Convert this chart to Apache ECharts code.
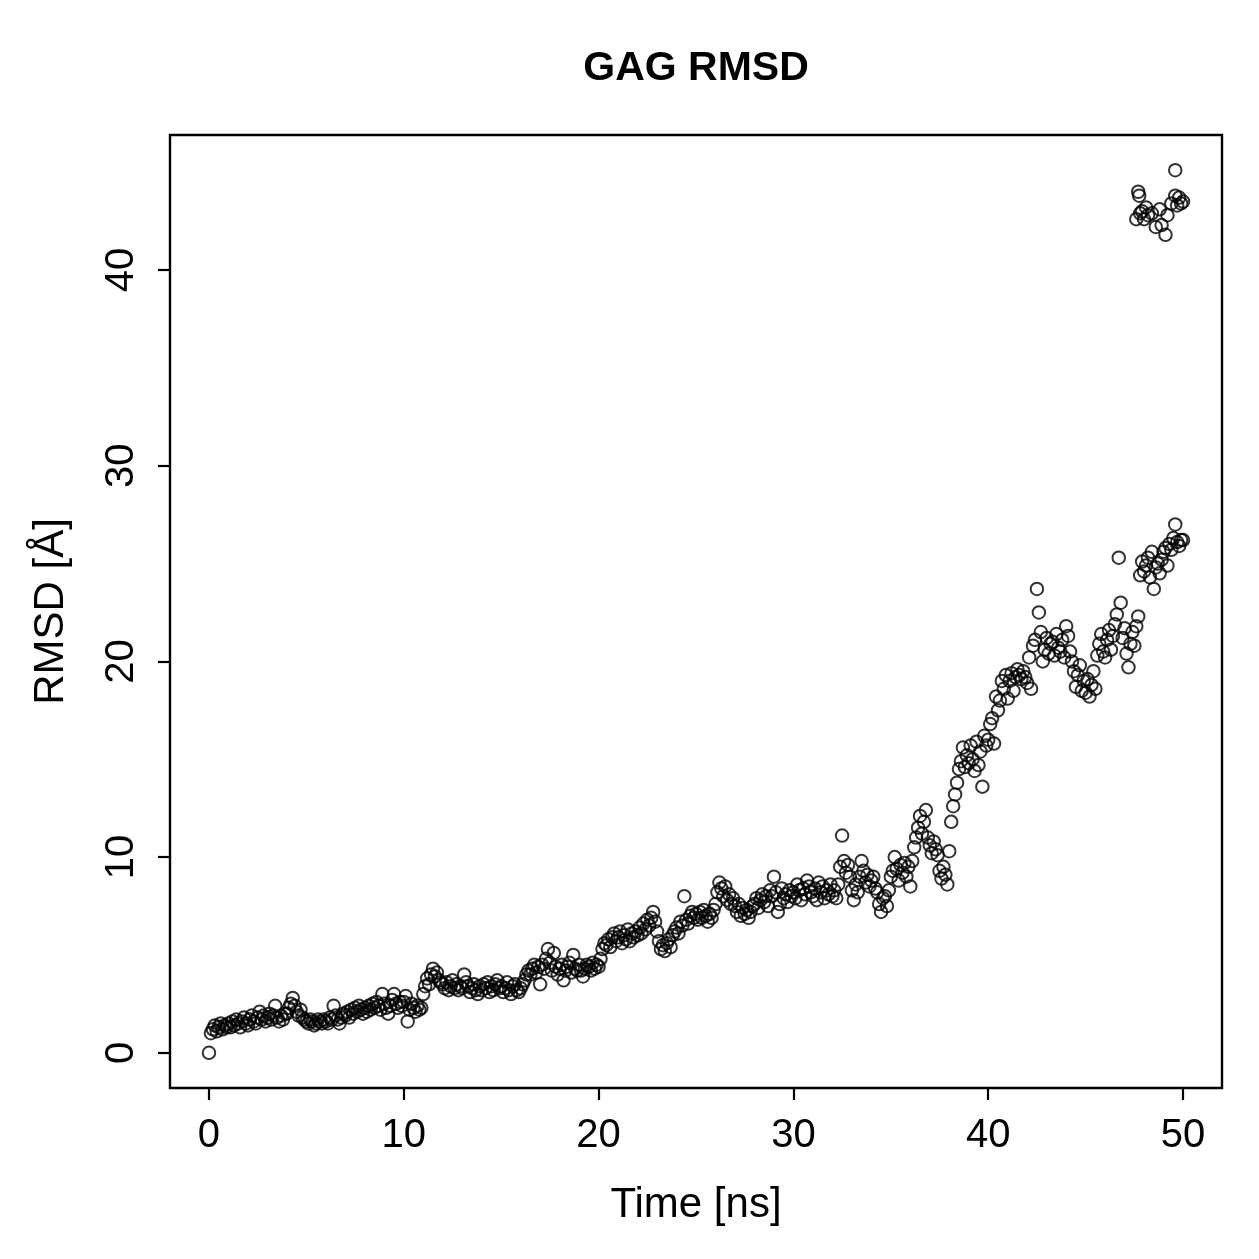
<!DOCTYPE html>
<html>
<head>
<meta charset="utf-8">
<title>GAG RMSD</title>
<script src="https://cdn.jsdelivr.net/npm/echarts@6.0.0/dist/echarts.min.js"></script>
<style>
  * { margin: 0; padding: 0; }
  html, body { width: 1259px; height: 1259px; background: #fff; }
  #main { width: 1259px; height: 1259px; }
</style>
</head>
<body>
<div id="main"></div>
<script>
// RMSD in Angstrom, one frame every 0.1 ns (0.0 .. 50.0), one row per ns
var timeStep = 0.1
var rmsd = [
  0.0, 1.0, 1.2, 1.4, 1.1, 1.3, 1.5, 1.2, 1.4, 1.3,
  1.5, 1.3, 1.6, 1.4, 1.7, 1.5, 1.3, 1.6, 1.8, 1.5,
  1.4, 1.7, 1.9, 1.6, 1.5, 1.8, 2.1, 1.7, 1.9, 1.6,
  1.8, 2.0, 1.7, 1.9, 2.4, 1.8, 1.6, 1.9, 1.7, 2.0,
  2.0, 2.3, 2.5, 2.8, 2.4, 2.1, 1.9, 2.2, 1.8, 1.7,
  1.6, 1.5, 1.7, 1.6, 1.4, 1.5, 1.7, 1.6, 1.5, 1.7,
  1.6, 1.5, 1.8, 1.7, 2.4, 1.9, 1.7, 1.5, 1.8, 2.0,
  1.9, 2.1, 1.8, 2.2, 2.0, 2.3, 2.1, 2.4, 2.2, 2.0,
  2.3, 2.1, 2.4, 2.2, 2.5, 2.3, 2.6, 2.4, 2.2, 3.0,
  2.5, 2.3, 2.0, 2.4, 2.7, 3.0, 2.5, 2.3, 2.6, 2.4,
  2.6, 2.9, 1.6, 2.2, 2.5, 2.3, 2.1, 2.4, 2.2, 2.3,
  3.0, 3.4, 3.8, 3.5, 4.0, 4.3, 3.9, 4.1, 3.7, 3.6,
  3.5, 3.3, 3.6, 3.2, 3.4, 3.7, 3.3, 3.5, 3.2, 3.4,
  3.3, 4.0, 3.6, 3.4, 3.1, 3.3, 3.5, 3.2, 3.0, 3.4,
  3.2, 3.5, 3.3, 3.6, 3.1, 3.4, 3.2, 3.5, 3.7, 3.3,
  3.4, 3.1, 3.3, 3.6, 3.2, 3.0, 3.4, 3.5, 3.2, 3.1,
  3.3, 3.5, 3.7, 4.0, 4.2, 4.0, 4.3, 4.5, 4.1, 4.4,
  3.5, 4.5, 4.3, 4.8, 5.3, 4.6, 4.2, 5.1, 4.4, 4.0,
  4.3, 4.5, 3.7, 4.2, 4.4, 4.6, 4.1, 5.0, 4.3, 4.2,
  4.5, 4.2, 3.9, 4.3, 4.5, 4.4, 4.2, 4.6, 4.3, 4.5,
  4.4, 4.8, 5.3, 5.6, 5.5, 5.8, 5.4, 5.9, 6.1, 5.7,
  5.9, 6.2, 5.6, 6.0, 5.8, 6.3, 5.7, 6.1, 5.9, 6.2,
  6.0, 6.4, 6.1, 6.6, 6.3, 6.8, 6.5, 6.9, 7.2, 6.7,
  6.2, 5.7, 5.3, 5.5, 5.2, 5.6, 5.8, 5.4, 6.0, 6.2,
  6.4, 6.1, 6.7, 6.5, 8.0, 6.8, 6.6, 7.0, 7.2, 6.9,
  7.1, 6.8, 7.2, 6.9, 7.3, 7.0, 6.7, 7.1, 6.9, 7.3,
  7.6, 8.2, 8.7, 8.4, 8.0, 8.5, 7.8, 8.1, 7.6, 7.9,
  7.5, 7.2, 7.6, 7.0, 7.4, 7.1, 7.3, 6.9, 7.2, 7.5,
  7.6, 7.9, 7.4, 7.8, 8.1, 7.7, 8.0, 7.5, 8.3, 8.0,
  9.0, 8.2, 7.2, 7.6, 8.4, 7.9, 8.1, 7.7, 8.3, 8.0,
  8.2, 7.9, 8.6, 8.3, 7.8, 8.4, 8.1, 8.8, 8.5, 8.2,
  8.0, 8.4, 7.8, 8.7, 8.2, 8.5, 7.9, 8.3, 8.1, 8.6,
  8.0, 8.3, 7.9, 8.6, 9.5, 11.1, 9.8, 9.2, 9.6, 9.0,
  8.3, 7.8, 8.6, 8.2, 9.0, 9.8, 9.3, 8.7, 9.1, 8.5,
  8.8, 9.0, 8.4, 8.2, 7.6, 7.2, 7.9, 8.0, 7.5, 8.3,
  9.0, 9.3, 10.0, 9.4, 8.8, 9.6, 9.2, 9.7, 9.0, 9.5,
  8.5, 9.8, 10.5, 11.0, 11.5, 12.1, 11.2, 11.8, 12.4, 11.0,
  10.6, 10.2, 10.8, 10.4, 10.1, 9.3, 8.9, 9.5, 9.1, 8.6,
  10.3, 11.8, 12.6, 13.2, 13.8, 14.5, 14.9, 15.6, 14.6, 15.2,
  14.8, 15.7, 15.0, 14.4, 15.9, 14.7, 15.4, 13.6, 16.2, 15.7,
  16.0, 16.8, 17.1, 15.8, 18.2, 17.5, 18.0, 19.0, 18.6, 19.3,
  18.1, 19.0, 19.4, 18.5, 19.2, 19.6, 19.3, 19.1, 19.5, 19.2,
  18.9, 20.2, 18.6, 20.8, 21.1, 23.7, 22.5, 21.5, 20.0, 20.6,
  21.2, 20.4, 20.9, 21.0, 20.3, 21.4, 20.7, 20.5, 21.1, 20.2,
  21.8, 21.3, 20.5, 20.0, 19.5, 18.7, 19.3, 19.8, 18.5, 19.0,
  18.4, 19.1, 18.2, 18.8, 19.5, 18.6, 20.3, 20.9, 21.4, 20.5,
  20.2, 21.1, 21.6, 20.6, 21.3, 21.9, 22.4, 25.3, 23.0, 21.2,
  21.7, 20.4, 19.7, 20.9, 21.5, 20.8, 21.8, 22.3, 24.4, 25.1,
  24.6, 24.9, 25.3, 24.3, 25.6, 23.7, 24.8, 25.0, 24.5, 25.2,
  25.6, 25.8, 24.9, 26.0, 25.7, 26.3, 27.0, 26.1, 25.9, 26.2,
  26.2
]

// frames that jumped to the far (periodic image) state near the end
var jumpTime = [47.6, 47.7, 47.75, 47.8, 47.9, 48.0, 48.1, 48.2, 48.4, 48.6, 48.8, 48.9, 49.1, 49.2, 49.4, 49.6, 49.6, 49.7, 49.8, 49.9, 50.0]
var jumpRmsd = [42.6, 44.0, 43.8, 42.9, 43.0, 42.6, 43.2, 42.8, 42.9, 42.2, 43.1, 42.3, 41.8, 42.8, 43.4, 45.1, 43.8, 43.3, 43.7, 43.4, 43.5]

var xTicks = [0, 10, 20, 30, 40, 50]
var yTicks = [0, 10, 20, 30, 40]

var points = rmsd.map(function (v, i) { return [+(i * timeStep).toFixed(1), v] })
jumpTime.forEach(function (t, i) { points.push([t, jumpRmsd[i]]) })

var font = 'Liberation Sans, Arial, Helvetica, sans-serif'
var myChart = echarts.init(document.getElementById('main'))

var option = {
  animation: false,
  backgroundColor: '#fff',
  title: {
    text: 'GAG RMSD',
    left: 691,
    top: 43,
    textAlign: 'center',
    textStyle: { fontFamily: font, fontSize: 41, fontWeight: 'bold', color: '#000' }
  },
  grid: {
    left: 170,
    top: 135,
    right: 37,
    bottom: 171,
    show: true,
    borderColor: '#000',
    borderWidth: 2.4,
    backgroundColor: 'transparent'
  },
  xAxis: {
    type: 'value',
    min: -2,
    max: 52,
    name: 'Time [ns]',
    nameLocation: 'middle',
    nameGap: 96,
    nameTextStyle: { fontFamily: font, fontSize: 42, color: '#000' },
    axisLine: { show: false, onZero: false },
    splitLine: { show: false },
    axisTick: { show: true, length: 12, customValues: xTicks, lineStyle: { color: '#000', width: 2.2 } },
    axisLabel: { customValues: xTicks, fontFamily: font, fontSize: 40, color: '#000', margin: 28 }
  },
  yAxis: {
    type: 'value',
    min: -1.8,
    max: 46.9,
    name: 'RMSD [Å]',
    nameLocation: 'middle',
    nameRotate: 90,
    nameGap: 98,
    nameTextStyle: { fontFamily: font, fontSize: 42, color: '#000' },
    axisLine: { show: false, onZero: false },
    splitLine: { show: false },
    axisTick: { show: true, length: 12, customValues: yTicks, lineStyle: { color: '#000', width: 2.2 } },
    axisLabel: { customValues: yTicks, rotate: 90, fontFamily: font, fontSize: 40, color: '#000', margin: 28 }
  },
  series: [{
    type: 'scatter',
    data: points,
    symbol: 'circle',
    symbolSize: 12.5,
    itemStyle: { color: 'rgba(0,0,0,0)', borderColor: '#000', borderWidth: 2 },
    emphasis: { disabled: true }
  }]
}
myChart.setOption(option)
</script>
</body>
</html>
